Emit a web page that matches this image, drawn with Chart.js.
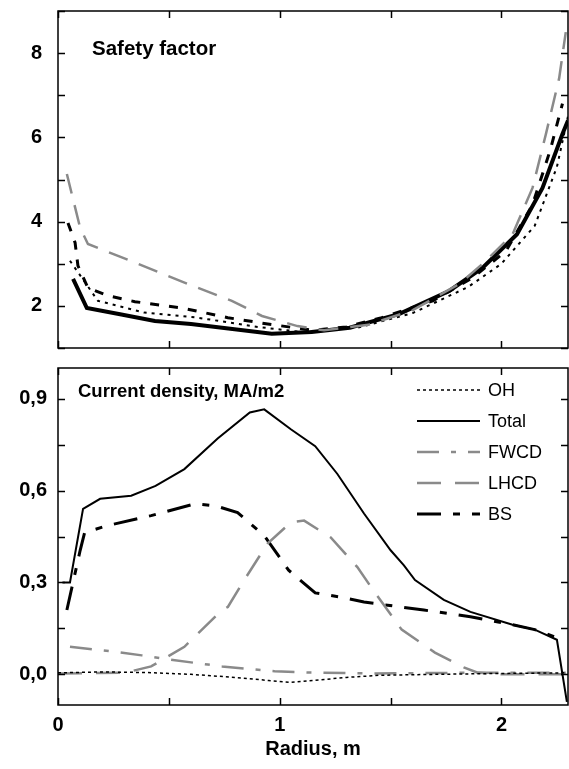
<!DOCTYPE html>
<html>
<head>
<meta charset="utf-8">
<script src="https://cdn.jsdelivr.net/npm/chart.js@4.4.1/dist/chart.umd.min.js"></script>
<style>
  body { margin: 0; background: #fff; }
  #wrap { position: relative; width: 569px; height: 769px; }
  canvas { position: absolute; left: 0; }
  #qChart { top: 0; }
  #jChart { top: 355px; }
</style>
</head>
<body>
<div id="wrap">
  <canvas id="qChart" width="569" height="352"></canvas>
  <canvas id="jChart" width="569" height="414"></canvas>
</div>
<script>
// --- Safety factor (top panel) ---
const qRadiusTotal = [0.068, 0.13, 0.28, 0.437, 0.6, 0.74, 0.964, 1.144, 1.315, 1.54, 1.766, 1.914, 2.07, 2.185, 2.275, 2.30];
const qTotal       = [2.64, 1.95, 1.80, 1.64, 1.57, 1.48, 1.34, 1.38, 1.48, 1.81, 2.36, 2.9, 3.7, 4.8, 6.08, 6.4];
const qRadiusGray  = [0.04, 0.10, 0.135, 0.36, 0.585, 0.784, 0.92, 1.08, 1.2, 1.4, 1.6, 1.81, 1.93, 2.05, 2.14, 2.20, 2.26, 2.29];
const qGray        = [5.13, 3.85, 3.47, 3.0, 2.52, 2.12, 1.76, 1.52, 1.42, 1.55, 1.9, 2.52, 3.07, 3.7, 4.8, 6.07, 7.4, 8.5];
const qRadiusDash  = [0.045, 0.077, 0.09, 0.135, 0.225, 0.347, 0.56, 0.766, 0.946, 1.15, 1.3, 1.46, 1.69, 1.87, 2.02, 2.14, 2.22, 2.275];
const qDash        = [3.97, 3.5, 2.95, 2.43, 2.24, 2.1, 1.95, 1.72, 1.57, 1.42, 1.5, 1.72, 2.12, 2.67, 3.3, 4.4, 5.7, 6.8];
const qRadiusDot   = [0.054, 0.18, 0.39, 0.63, 0.9, 1.1, 1.35, 1.6, 1.85, 2.0, 2.15, 2.25, 2.30];
const qDot         = [3.07, 2.12, 1.84, 1.72, 1.5, 1.38, 1.48, 1.83, 2.45, 3.0, 3.9, 5.3, 6.5];

// --- Current density (bottom panel), MA/m2 ---
const jRadiusOH    = [0, 0.2, 0.4, 0.6, 0.8, 0.95, 1.05, 1.15, 1.3, 1.45, 1.7, 2.0, 2.29];
const jOH          = [0.005, 0.008, 0.006, 0.0, -0.01, -0.02, -0.026, -0.02, -0.01, -0.003, 0.0, 0.003, 0.005];
const jRadiusTotal = [0.02, 0.054, 0.113, 0.19, 0.33, 0.44, 0.57, 0.72, 0.865, 0.93, 1.05, 1.16, 1.26, 1.38, 1.50, 1.56, 1.61, 1.74, 1.86, 2.05, 2.15, 2.25, 2.295];
const jTotal       = [0.30, 0.30, 0.54, 0.573, 0.583, 0.615, 0.67, 0.77, 0.855, 0.865, 0.80, 0.745, 0.654, 0.525, 0.405, 0.356, 0.308, 0.243, 0.204, 0.162, 0.146, 0.113, -0.09];
const jRadiusFWCD  = [0.054, 0.243, 0.378, 0.495, 0.676, 0.74, 0.977, 1.126, 1.4, 1.8, 2.29];
const jFWCD        = [0.09, 0.075, 0.062, 0.049, 0.032, 0.026, 0.01, 0.006, 0.003, 0.005, 0.005];
const jRadiusLHCD  = [0.0, 0.3, 0.42, 0.57, 0.74, 0.766, 0.84, 0.946, 1.05, 1.11, 1.23, 1.35, 1.43, 1.55, 1.70, 1.83, 1.89, 2.0, 2.29];
const jLHCD        = [0.003, 0.005, 0.026, 0.09, 0.21, 0.22, 0.308, 0.428, 0.496, 0.502, 0.447, 0.35, 0.266, 0.146, 0.071, 0.023, 0.006, 0.0, 0.0];
const jRadiusBS    = [0.04, 0.10, 0.12, 0.225, 0.42, 0.62, 0.71, 0.81, 0.93, 1.04, 1.16, 1.29, 1.38, 1.65, 1.86, 2.05, 2.15, 2.25];
const jBS          = [0.21, 0.405, 0.463, 0.486, 0.518, 0.557, 0.55, 0.528, 0.453, 0.34, 0.266, 0.25, 0.236, 0.21, 0.188, 0.162, 0.146, 0.12];

const GRAY = '#8a8a8a';
const FONT = 'Liberation Sans, Arial, sans-serif';

function pts(xs, ys) {
    return xs.map((x, i) => ({ x: x, y: ys[i] }));
}

// no extra room for half-labels at the scale ends
function noPad(s) {
    s.paddingTop = 0; s.paddingBottom = 0;
    s.paddingLeft = 0; s.paddingRight = 0;
}

// frame + inward ticks on all four sides
const framePlugin = {
    id: 'frame',
    afterDraw(chart) {
        const { ctx, chartArea: a, scales } = chart;
        const x = scales.x, y = scales.y;
        ctx.save();
        ctx.strokeStyle = '#000';
        ctx.lineWidth = 1.5;
        ctx.strokeRect(a.left, a.top, a.right - a.left, a.bottom - a.top);
        ctx.beginPath();
        x.ticks.forEach(t => {
            const px = Math.round(x.getPixelForValue(t.value)) + 0.5;
            ctx.moveTo(px, a.bottom); ctx.lineTo(px, a.bottom - 7);
            ctx.moveTo(px, a.top); ctx.lineTo(px, a.top + 7);
        });
        y.ticks.forEach(t => {
            const py = Math.round(y.getPixelForValue(t.value)) + 0.5;
            ctx.moveTo(a.left, py); ctx.lineTo(a.left + 7, py);
            ctx.moveTo(a.right, py); ctx.lineTo(a.right - 7, py);
        });
        ctx.stroke();
        ctx.restore();
    }
};

// panel caption inside the plot
const captionPlugin = {
    id: 'caption',
    afterDraw(chart, args, opts) {
        const ctx = chart.ctx;
        ctx.save();
        ctx.font = 'bold ' + opts.size + 'px ' + FONT;
        ctx.fillStyle = '#000';
        ctx.textBaseline = 'alphabetic';
        ctx.fillText(opts.text, opts.x, opts.y);
        ctx.restore();
    }
};

// legend drawn from the datasets' own styles
const legendPlugin = {
    id: 'sampleLegend',
    afterDraw(chart, args, opts) {
        if (!opts.show) return;
        const ctx = chart.ctx;
        ctx.save();
        chart.data.datasets.forEach((ds, i) => {
            const y = opts.top + i * opts.step;
            ctx.beginPath();
            ctx.strokeStyle = ds.borderColor;
            ctx.lineWidth = ds.borderWidth;
            ctx.setLineDash(ds.borderDash || []);
            ctx.moveTo(opts.left, y);
            ctx.lineTo(opts.left + opts.len, y);
            ctx.stroke();
            ctx.setLineDash([]);
            ctx.font = '18px ' + FONT;
            ctx.fillStyle = '#000';
            ctx.textBaseline = 'middle';
            ctx.fillText(ds.label, opts.left + opts.len + 8, y + 1);
        });
        ctx.restore();
    }
};

Chart.register(framePlugin, captionPlugin, legendPlugin);

// 1. Safety factor
new Chart(document.getElementById('qChart').getContext('2d'), {
    type: 'line',
    data: {
        datasets: [
            { label: 'q1', data: pts(qRadiusGray, qGray), borderColor: GRAY, borderWidth: 2.5, borderDash: [20, 12] },
            { label: 'q2', data: pts(qRadiusDash, qDash), borderColor: '#000', borderWidth: 3, borderDash: [9, 10] },
            { label: 'q3', data: pts(qRadiusDot, qDot), borderColor: '#000', borderWidth: 2, borderDash: [3, 5] },
            { label: 'q', data: pts(qRadiusTotal, qTotal), borderColor: '#000', borderWidth: 4 }
        ]
    },
    options: {
        responsive: false,
        animation: false,
        layout: { padding: { top: 11, right: 1, bottom: 4, left: 0 } },
        elements: { point: { radius: 0 }, line: { tension: 0 } },
        plugins: {
            legend: { display: false },
            tooltip: { enabled: false },
            caption: { text: 'Safety factor', x: 92, y: 55, size: 20.5 },
            sampleLegend: { show: false }
        },
        scales: {
            x: {
                type: 'linear', min: 0, max: 2.3,
                ticks: { display: false, stepSize: 0.5, includeBounds: false },
                grid: { display: false }, border: { display: false },
                afterFit: s => { s.height = 0; noPad(s); }
            },
            y: {
                min: 1, max: 9,
                grid: { display: false, drawTicks: false }, border: { display: false },
                ticks: {
                    stepSize: 1, includeBounds: false, padding: 16, color: '#000',
                    font: { family: FONT, size: 20, weight: 'bold' },
                    callback: v => (v % 2 === 0 ? String(v) : '')
                },
                afterFit: s => { s.width = 58; noPad(s); }
            }
        }
    }
});

// 2. Current density
new Chart(document.getElementById('jChart').getContext('2d'), {
    type: 'line',
    data: {
        datasets: [
            { label: 'OH', data: pts(jRadiusOH, jOH), borderColor: '#000', borderWidth: 1.5, borderDash: [3, 3] },
            { label: 'Total', data: pts(jRadiusTotal, jTotal), borderColor: '#000', borderWidth: 2 },
            { label: 'FWCD', data: pts(jRadiusFWCD, jFWCD), borderColor: GRAY, borderWidth: 2.5, borderDash: [22, 12, 5, 12] },
            { label: 'LHCD', data: pts(jRadiusLHCD, jLHCD), borderColor: GRAY, borderWidth: 2.5, borderDash: [24, 14] },
            { label: 'BS', data: pts(jRadiusBS, jBS), borderColor: '#000', borderWidth: 3, borderDash: [24, 12, 7, 12] }
        ]
    },
    options: {
        responsive: false,
        animation: false,
        layout: { padding: { top: 13, right: 1, bottom: 0, left: 0 } },
        elements: { point: { radius: 0 }, line: { tension: 0 } },
        plugins: {
            legend: { display: false },
            tooltip: { enabled: false },
            caption: { text: 'Current density, MA/m2', x: 78, y: 42, size: 18.5 },
            sampleLegend: { show: true, left: 417, len: 63, top: 35, step: 31 }
        },
        scales: {
            x: {
                type: 'linear', min: 0, max: 2.3,
                grid: { display: false, drawTicks: false }, border: { display: false },
                ticks: {
                    stepSize: 0.5, includeBounds: false, autoSkip: false, maxRotation: 0,
                    padding: 8, color: '#000',
                    font: { family: FONT, size: 20, weight: 'bold' },
                    callback: v => (Number.isInteger(v) ? String(v) : '')
                },
                title: {
                    display: true, text: 'Radius, m', color: '#000',
                    font: { family: FONT, size: 20, weight: 'bold' },
                    padding: { top: 2, bottom: 8 }
                },
                afterFit: s => { s.height = 64; noPad(s); }
            },
            y: {
                min: -0.1, max: 1.0,
                grid: { display: false, drawTicks: false }, border: { display: false },
                ticks: {
                    stepSize: 0.15, includeBounds: false, padding: 11, color: '#000',
                    font: { family: FONT, size: 20, weight: 'bold' },
                    callback: v => {
                        const k = v / 0.3;
                        return Math.abs(k - Math.round(k)) < 1e-6 ? v.toFixed(1).replace('.', ',') : '';
                    }
                },
                afterFit: s => { s.width = 58; noPad(s); }
            }
        }
    }
});
</script>
</body>
</html>
